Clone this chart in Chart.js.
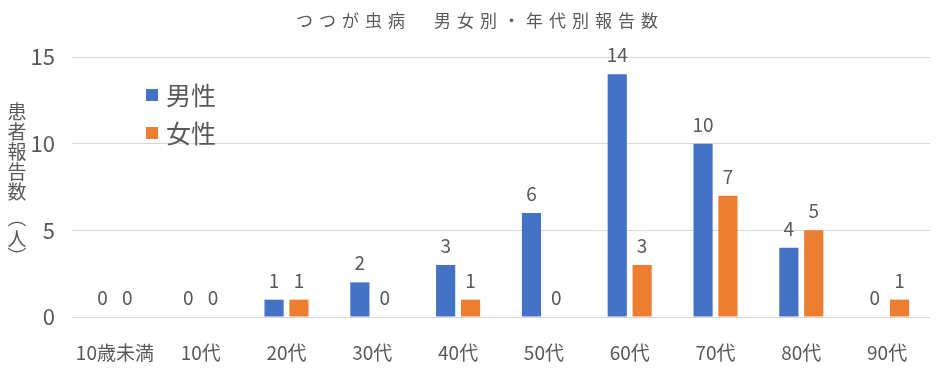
<!DOCTYPE html>
<html>
<head>
<meta charset="utf-8">
<script src="https://cdn.jsdelivr.net/npm/chart.js@4.4.0/dist/chart.umd.min.js"></script>
<style>
  html, body { margin: 0; padding: 0; background: #fff; }
  #wrap { width: 941px; height: 373px; }
</style>
</head>
<body>
<div id="wrap"><canvas id="cnvTsutsuga" width="941" height="373"></canvas></div>
<script>
var categories = ["10歳未満", "10代", "20代", "30代", "40代", "50代", "60代", "70代", "80代", "90代"];
var maleValues = [0, 0, 1, 2, 3, 6, 14, 10, 4, 0];
var femaleValues = [0, 0, 1, 0, 1, 0, 3, 7, 5, 1];
var yTicks = [0, 5, 10, 15];
var chartTitle = "つつが虫病\u3000男女別・年代別報告数";
var yTitleChars = ["患", "者", "報", "告", "数", "︵", "人", "︶"];

var FONT = "'Noto Sans CJK JP', 'Noto Sans', sans-serif";
var GREY = "#595959";

// titles, legend and value labels drawn on the canvas
var extras = {
	id: "extras",
	afterDatasetsDraw: function(chart){
		var ctx = chart.ctx;
		ctx.save();
		// value labels
		ctx.fillStyle = GREY;
		ctx.font = "19px " + FONT;
		ctx.textAlign = "center";
		ctx.textBaseline = "alphabetic";
		chart.data.datasets.forEach(function(ds, i){
			chart.getDatasetMeta(i).data.forEach(function(bar, j){
				ctx.fillText(String(ds.data[j]), bar.x, bar.y - 12);
			});
		});

		// title
		ctx.font = "17px " + FONT;
		ctx.letterSpacing = "6px";
		ctx.textBaseline = "middle";
		ctx.fillText(chartTitle, 480, 21);
		ctx.letterSpacing = "0px";

		// y axis title, one char per line
		ctx.font = "19px " + FONT;
		var ys = [112, 132, 152, 172, 192, 218, 239, 257];
		yTitleChars.forEach(function(c, k){
			ctx.fillText(c, 17, ys[k]);
		});

		// legend
		ctx.textAlign = "left";
		ctx.font = "25px " + FONT;
		chart.data.datasets.forEach(function(ds, i){
			var y = 95 + i * 38;
			ctx.fillStyle = ds.backgroundColor;
			ctx.fillRect(146, y - 6, 12, 12);
			ctx.fillStyle = GREY;
			ctx.fillText(ds.label, 166, y);
		});
		ctx.restore();
	}
};

new Chart(document.getElementById("cnvTsutsuga").getContext("2d"), {
	type: "bar",
	data: {
		labels: categories,
		datasets: [
			{ label: "男性", data: maleValues, backgroundColor: "#4472C4", categoryPercentage: 0.58, barPercentage: 0.77 },
			{ label: "女性", data: femaleValues, backgroundColor: "#ED7D31", categoryPercentage: 0.58, barPercentage: 0.77 }
		]
	},
	options: {
		responsive: false,
		animation: false,
		devicePixelRatio: 1,
		layout: { padding: { top: 57, right: 11, bottom: 0, left: 0 } },
		plugins: {
			legend: { display: false },
			title: { display: false },
			tooltip: { enabled: false }
		},
		scales: {
			x: {
				grid: { display: false },
				border: { display: false },
				ticks: { color: GREY, font: { family: FONT, size: 19 }, padding: 16, maxRotation: 0 },
				afterFit: function(scale){ scale.height = 56; }
			},
			y: {
				min: 0,
				max: 15,
				afterBuildTicks: function(scale){
					scale.ticks = yTicks.map(function(v){ return { value: v }; });
				},
				grid: { color: "#D9D9D9", lineWidth: 1, drawTicks: false },
				border: { display: false },
				ticks: { color: GREY, font: { family: FONT, size: 22 }, padding: 17 },
				afterFit: function(scale){ scale.width = 72; }
			}
		}
	},
	plugins: [extras]
});
</script>
</body>
</html>
